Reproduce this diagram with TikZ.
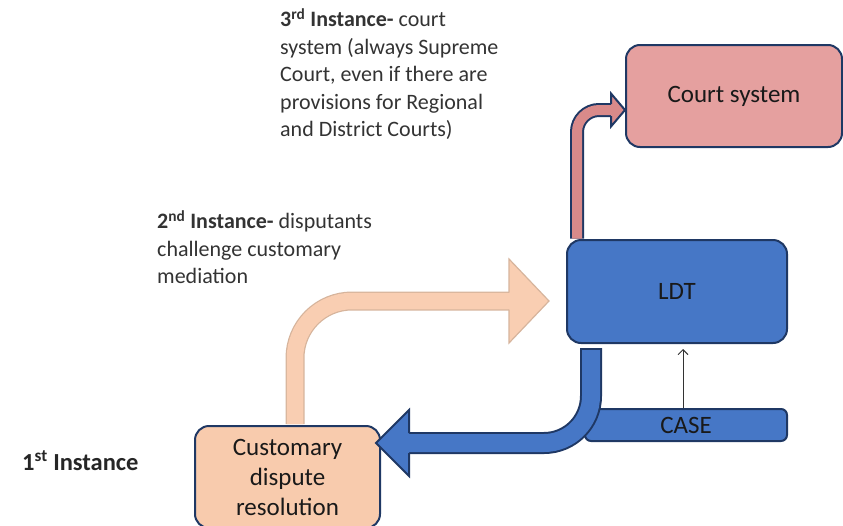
\documentclass[tikz,border=0pt]{standalone}
\usepackage{fontspec}
\setmainfont{Carlito}
\usetikzlibrary{arrows.meta,calc}
\definecolor{navy}{HTML}{1F3864}
\definecolor{ldtblue}{HTML}{4677C6}
\definecolor{courtpink}{HTML}{E5A09F}
\definecolor{peach}{HTML}{F8CBAD}
\definecolor{peachfill}{HTML}{F9CEB2}
\definecolor{peachedge}{HTML}{D6B49C}
\definecolor{pinkarrow}{HTML}{D98A8A}
\definecolor{txt}{HTML}{333333}
\begin{document}
\begin{tikzpicture}[x=1pt,y=-1pt,
  box/.style={draw=navy, line width=2pt, rounded corners=14pt, inner sep=0pt,
    font=\fontsize{25}{30}\selectfont, text=black!90, align=center},
  note/.style={anchor=north west, inner sep=0pt, align=left, text=txt,
    font=\fontsize{22}{27.5}\selectfont},
  thinarrow/.style={draw=black!80, line width=0.9pt, -{Straight Barb[length=5pt,width=10pt]}}
  ]
\useasboundingbox (0,0) rectangle (843,525);
\clip (0,0) rectangle (843,525);
% boxes
\node[box, fill=courtpink, minimum width=216pt, minimum height=102pt] (court) at (734,96) {Court system};
\node[box, fill=ldtblue, minimum width=220pt, minimum height=103pt] (ldt) at (677,291.5) {LDT};
\node[box, fill=ldtblue, rounded corners=6pt, minimum width=202pt, minimum height=32pt] (case) at (686,425) {CASE};
\node[box, fill=peach, minimum width=185pt, minimum height=102pt] (cdr) at (287.5,477) {Customary\\dispute\\resolution};
% thin arrow CASE -> LDT
\draw[thinarrow] ($(case.north)+(-3,0)$) -- ($(ldt.south)+(6,5)$);
% blue arrow LDT -> customary
\coordinate (bs) at ($(ldt.south west)+(25,4)$);
\coordinate (be) at ($(cdr.north east)+(28,18)$);
\draw[line width=22pt, navy, rounded corners=47pt] (bs) -- (bs |- be) -- (be);
\draw[line width=18pt, ldtblue, rounded corners=47pt] ($(bs)+(0,2)$) -- (bs |- be) -- (be);
\fill[ldtblue] ($(be)+(0,-33)$) -- ($(be)+(-33,0)$) -- ($(be)+(0,33)$) -- cycle;
\draw[navy, line width=2pt] ($(be)+(0,-10)$) -- ($(be)+(0,-33)$) -- ($(be)+(-33,0)$) -- ($(be)+(0,33)$) -- ($(be)+(0,10)$);
% pink arrow LDT -> court
\coordinate (ps) at ($(ldt.north west)+(11,-0.5)$);
\coordinate (pe) at ($(court.west)+(-14,14)$);
\draw[line width=14pt, navy, rounded corners=22pt] (ps) -- (ps |- pe) -- (pe);
\draw[line width=10pt, pinkarrow, rounded corners=22pt] (ps) -- (ps |- pe) -- (pe);
\fill[pinkarrow] ($(pe)+(0,-16.5)$) -- ($(pe)+(14,0)$) -- ($(pe)+(0,16.5)$) -- cycle;
\draw[navy, line width=2pt] ($(pe)+(0,-6)$) -- ($(pe)+(0,-16.5)$) -- ($(pe)+(14,0)$) -- ($(pe)+(0,16.5)$) -- ($(pe)+(0,6)$);
% peach arrow customary -> LDT
\coordinate (qs) at ($(cdr.north west)+(101,-1)$);
\coordinate (qe) at ($(ldt.west)+(-57,9.5)$);
\draw[line width=19pt, peachedge, rounded corners=57pt] (qs) -- (qs |- qe) -- (qe);
\draw[line width=16.5pt, peachfill, rounded corners=57pt] (qs) -- (qs |- qe) -- (qe);
\fill[peachfill] ($(qe)+(0,-42)$) -- ($(qe)+(40,0)$) -- ($(qe)+(0,42)$) -- cycle;
\draw[peachedge, line width=1.2pt] ($(qe)+(0,-8.5)$) -- ($(qe)+(0,-42)$) -- ($(qe)+(40,0)$) -- ($(qe)+(0,42)$) -- ($(qe)+(0,8.5)$);
% annotations
\node[note] (n3) at (280,8) {\textbf{3\textsuperscript{rd} Instance-} court\\system (always Supreme\\Court, even if there are\\provisions for Regional\\and District Courts)};
\node[note] (n2) at (157,210) {\textbf{2\textsuperscript{nd} Instance-} disputants\\challenge customary\\mediation};
\node[note, text=black!85, font=\fontsize{24.5}{29}\selectfont] (n1) at (22,450) {\textbf{1\textsuperscript{st} Instance}};
\end{tikzpicture}
\end{document}
